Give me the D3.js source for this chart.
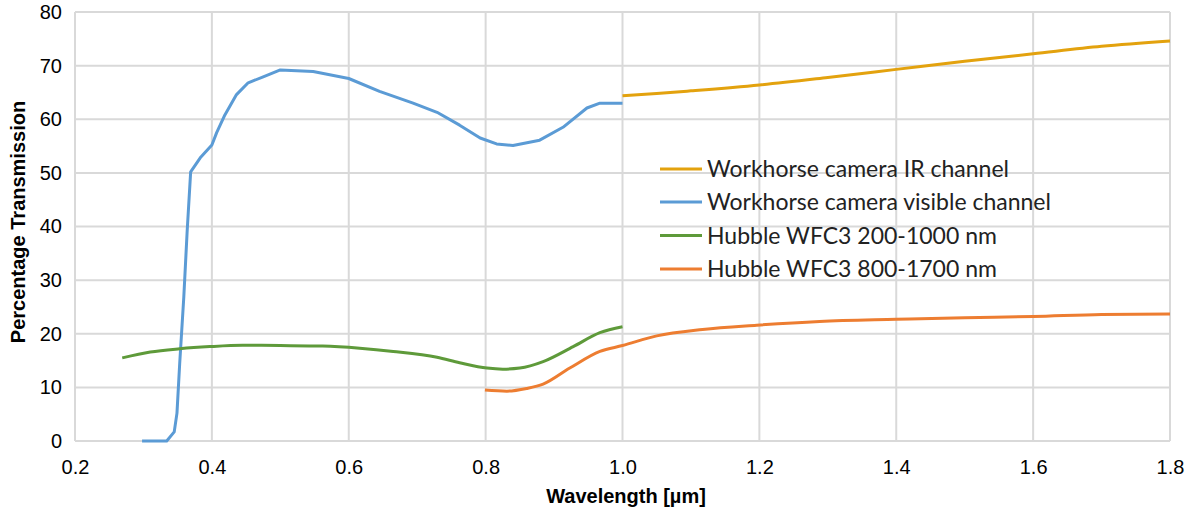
<!DOCTYPE html>
<html>
<head>
<meta charset="utf-8">
<script src="https://cdn.jsdelivr.net/npm/d3@7"></script>
<style>
  body { margin: 0; background: #fff; }
  svg text { font-family: "Liberation Sans", Arial, sans-serif; fill: #000; }
  .legend text { font-family: Lato, "Open Sans", sans-serif; fill: #222; }
</style>
</head>
<body>
<div id="chart"></div>
<script>
// --- DATA ---
const xTicks = [0.2, 0.4, 0.6, 0.8, 1.0, 1.2, 1.4, 1.6, 1.8];
const yTicks = [0, 10, 20, 30, 40, 50, 60, 70, 80];

// Workhorse camera IR channel
const irWl = [1.0, 1.05, 1.1, 1.2, 1.3, 1.4, 1.5, 1.6, 1.7, 1.8];
const irT  = [64.4, 64.8, 65.3, 66.4, 67.8, 69.3, 70.8, 72.2, 73.6, 74.6];

// Workhorse camera visible channel
const visWl = [0.298, 0.334, 0.345, 0.349, 0.353, 0.359, 0.364, 0.369, 0.383, 0.400, 0.407, 0.419,
               0.436, 0.453, 0.475, 0.500, 0.548, 0.600, 0.645, 0.694, 0.729, 0.762, 0.792, 0.816,
               0.840, 0.879, 0.913, 0.948, 0.967, 1.000];
const visT  = [0, 0, 1.7, 5.2, 14.5, 26.9, 39.4, 50.2, 52.8, 55.2, 57.5, 60.8,
               64.6, 66.8, 67.9, 69.2, 68.9, 67.6, 65.2, 63.0, 61.3, 58.9, 56.5, 55.4,
               55.1, 56.1, 58.5, 62.1, 63.0, 63.0];

// Hubble WFC3 200-1000 nm
const uvisWl = [0.269, 0.310, 0.353, 0.397, 0.445, 0.500, 0.562, 0.616, 0.665, 0.729, 0.762, 0.802,
                0.825, 0.850, 0.884, 0.928, 0.967, 1.000];
const uvisT  = [15.5, 16.6, 17.2, 17.6, 17.85, 17.8, 17.7, 17.3, 16.7, 15.6, 14.6, 13.6,
                13.4, 13.6, 14.8, 17.6, 20.2, 21.3];

// Hubble WFC3 800-1700 nm
const nirWl = [0.799, 0.831, 0.860, 0.884, 0.923, 0.967, 1.0, 1.05, 1.117, 1.196, 1.288, 1.4, 1.5, 1.6, 1.7, 1.8];
const nirT  = [9.5, 9.3, 9.8, 10.6, 13.6, 16.7, 17.8, 19.6, 20.8, 21.6, 22.3, 22.7, 23.0, 23.2, 23.6, 23.7];

const seriesNames = ["Workhorse camera IR channel", "Workhorse camera visible channel",
                     "Hubble WFC3 200-1000 nm", "Hubble WFC3 800-1700 nm"];
const seriesColors = ["#E3A20E", "#5B9BD5", "#5E9A3A", "#ED7D31"];

const series = [
  { name: seriesNames[0], color: seriesColors[0], pts: irWl.map((w, i) => [w, irT[i]]), curve: d3.curveMonotoneX },
  { name: seriesNames[1], color: seriesColors[1], pts: visWl.map((w, i) => [w, visT[i]]), curve: d3.curveLinear },
  { name: seriesNames[2], color: seriesColors[2], pts: uvisWl.map((w, i) => [w, uvisT[i]]), curve: d3.curveMonotoneX },
  { name: seriesNames[3], color: seriesColors[3], pts: nirWl.map((w, i) => [w, nirT[i]]), curve: d3.curveMonotoneX }
];

// --- LAYOUT ---
const width = 1188, height = 510;
const margin = { top: 12, right: 18, bottom: 69, left: 75 };
const innerW = width - margin.left - margin.right;
const innerH = height - margin.top - margin.bottom;

const svg = d3.select("#chart").append("svg")
  .attr("width", width).attr("height", height);
const g = svg.append("g").attr("transform", `translate(${margin.left},${margin.top})`);

const x = d3.scaleLinear().domain([0.2, 1.8]).range([0, innerW]);
const y = d3.scaleLinear().domain([0, 80]).range([innerH, 0]);

// Gridlines
g.append("g").selectAll("line").data(yTicks).enter().append("line")
  .attr("x1", 0).attr("x2", innerW)
  .attr("y1", d => y(d)).attr("y2", d => y(d))
  .attr("stroke", "#d9d9d9").attr("stroke-width", 2);
g.append("g").selectAll("line").data(xTicks).enter().append("line")
  .attr("y1", 0).attr("y2", innerH)
  .attr("x1", d => x(d)).attr("x2", d => x(d))
  .attr("stroke", "#d9d9d9").attr("stroke-width", 2);

// Axes (labels only)
const xAxis = g.append("g").attr("transform", `translate(0,${innerH})`)
  .call(d3.axisBottom(x).tickValues(xTicks).tickFormat(d3.format(".1f")).tickSize(0).tickPadding(19));
const yAxis = g.append("g")
  .call(d3.axisLeft(y).tickValues(yTicks).tickSize(0).tickPadding(13));
[xAxis, yAxis].forEach(a => {
  a.select(".domain").remove();
  a.selectAll("text").attr("font-size", 20).attr("fill", "#111")
    .style("font-family", '"Liberation Sans", Arial, sans-serif');
});

// Lines
series.forEach(s => {
  g.append("path")
    .datum(s.pts)
    .attr("fill", "none")
    .attr("stroke", s.color)
    .attr("stroke-width", 3)
    .attr("stroke-linejoin", "round")
    .attr("d", d3.line().x(d => x(d[0])).y(d => y(d[1])).curve(s.curve));
});

// Axis titles
svg.append("text")
  .attr("x", 626).attr("y", 503)
  .attr("text-anchor", "middle")
  .attr("font-size", 20).attr("font-weight", "bold")
  .text("Wavelength [µm]");
svg.append("text")
  .attr("transform", "translate(25,222) rotate(-90)")
  .attr("text-anchor", "middle")
  .attr("font-size", 20).attr("font-weight", "bold")
  .text("Percentage Transmission");

// Legend
const legend = svg.append("g").attr("class", "legend");
const legendY = [169, 202, 235.5, 269];
series.forEach((s, i) => {
  const row = legend.append("g").attr("transform", `translate(660,${legendY[i]})`);
  row.append("line").attr("x1", 0).attr("x2", 42).attr("y1", 0).attr("y2", 0)
    .attr("stroke", s.color).attr("stroke-width", 3);
  row.append("text").attr("x", 47).attr("y", 0).attr("dy", "0.35em")
    .attr("font-size", 23).text(s.name);
});
</script>
</body>
</html>
